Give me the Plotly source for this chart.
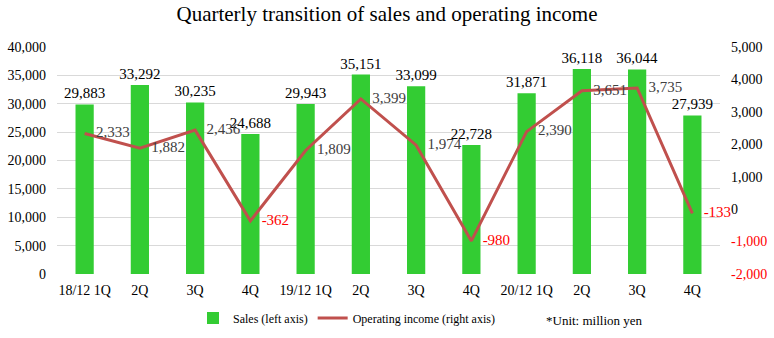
import plotly.graph_objects as go

quarters = ["18/12 1Q", "2Q", "3Q", "4Q", "19/12 1Q", "2Q", "3Q", "4Q", "20/12 1Q", "2Q", "3Q", "4Q"]
sales = [29883, 33292, 30235, 24688, 29943, 35151, 33099, 22728, 31871, 36118, 36044, 27939]
op_income = [2333, 1882, 2436, -362, 1809, 3399, 1974, -980, 2390, 3651, 3735, -133]
left_ticks = list(range(0, 40001, 5000))
right_ticks = list(range(-2000, 5001, 1000))

x = list(range(len(quarters)))
FONT = "Liberation Serif"
NBSP = "\u00a0"

fig = go.Figure()
fig.add_trace(go.Bar(
    x=x, y=sales, name="Sales (left axis)",
    marker=dict(color="#33CC33", line=dict(width=0)),
    text=[f"{v:,}" for v in sales], textposition="outside",
    constraintext="none",
    textfont=dict(family=FONT, size=15, color="#000000"),
    cliponaxis=False, yaxis="y",
))
fig.add_trace(go.Scatter(
    x=x, y=op_income, name="Operating income (right axis)",
    mode="lines+text", line=dict(color="#C0504D", width=3),
    text=[NBSP * 3 + f"{v:,}" for v in op_income], textposition="middle right",
    textfont=dict(family=FONT, size=15,
                  color=["#FF0000" if v < 0 else "#404040" for v in op_income]),
    cliponaxis=False, yaxis="y2",
))

fig.add_annotation(text="*Unit: million yen", xref="paper", yref="paper",
                   x=(544 - 57) / 663, y=-(320 - 274) / 227, xanchor="left", yanchor="middle",
                   showarrow=False, font=dict(family=FONT, size=13, color="#000000"))

fig.update_layout(
    width=774, height=338,
    margin=dict(l=57, r=54, t=47, b=64, autoexpand=False),
    paper_bgcolor="white", plot_bgcolor="white",
    title=dict(text="Quarterly transition of sales and operating income",
               x=0.5, xanchor="center", y=1 - 14 / 338, yanchor="middle",
               font=dict(family=FONT, size=21, color="#000000")),
    font=dict(family=FONT, size=14, color="#000000"),
    bargap=0.67,
    showlegend=True,
    legend=dict(orientation="h", xref="container", yref="container",
                x=193 / 774, y=1 - 318 / 338, xanchor="left", yanchor="middle",
                font=dict(family=FONT, size=12, color="#000000"),
                itemwidth=30, traceorder="normal", bgcolor="rgba(0,0,0,0)"),
    xaxis=dict(tickvals=x, ticktext=quarters, range=[-0.5, 11.5],
               showgrid=False, zeroline=False, showline=False,
               tickfont=dict(family=FONT, size=14), ticklabelstandoff=6),
    yaxis=dict(range=[0, 40000], tickvals=left_ticks,
               ticktext=[f"{v:,}" for v in left_ticks],
               showgrid=True, gridcolor="#D9D9D9", gridwidth=1,
               zeroline=False, showline=False,
               tickfont=dict(family=FONT, size=14), ticklabelstandoff=10),
    yaxis2=dict(range=[-2000, 5000], overlaying="y", side="right",
                tickvals=right_ticks,
                ticktext=[(f'<span style="color:#FF0000">{v:,}</span>' if v < 0 else f"{v:,}") for v in right_ticks],
                showgrid=False, zeroline=False, showline=False,
                tickfont=dict(family=FONT, size=14), ticklabelstandoff=10),
)

fig.write_html("out.html")
